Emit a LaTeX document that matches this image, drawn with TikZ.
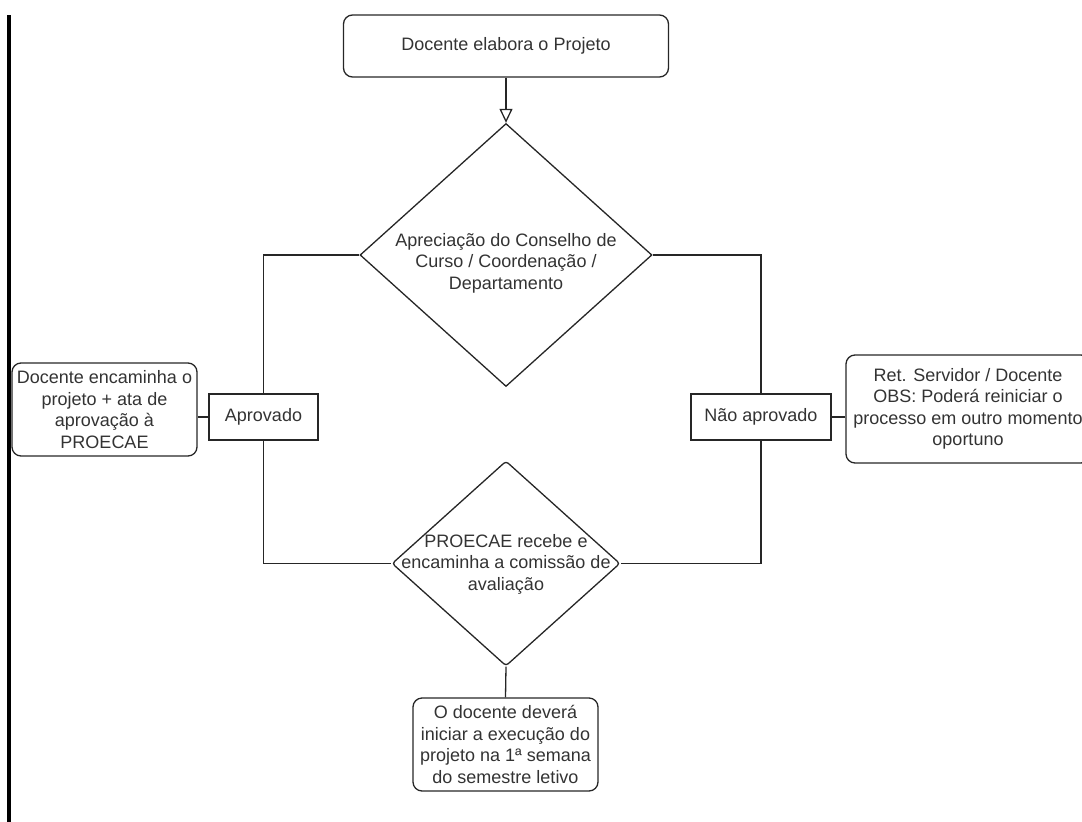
\documentclass[tikz,border=0pt]{standalone}
\usepackage{fontspec}
\setmainfont{Liberation Sans}
\usetikzlibrary{shapes.geometric,arrows.meta}

\begin{document}
\begin{tikzpicture}[x=1pt, y=-1pt, % pixel-like units, y downwards {{{
every node/.style={font=\fontsize{18}{21.5}\selectfont, text=black!80, align=center},
caixa/.style={draw=black!85, line width=1.3pt, rounded corners=9pt, inner sep=0pt},
rotulo/.style={draw=black!85, line width=1.3pt, inner sep=0pt, minimum height=46pt},
losango/.style={draw=black!85, diamond, line width=1.3pt, inner sep=0pt},
liga/.style={draw=black!85, line width=1.3pt}]
% }}}
\useasboundingbox (0,0) rectangle (1082,822);
\pgfmathsetmacro{\meio}{506}
\pgfmathsetmacro{\linha}{417}
% barra preta a esquerda
\draw[line width=4pt] (9,15) -- (9,822);
% Inicio {{{
\node[caixa, minimum width=325pt, minimum height=62pt] (elabora) at (\meio,46) {Docente elabora o Projeto};
\node[losango, minimum width=292pt, minimum height=263pt] (conselho) at (\meio,255) {};
\node (conselhoT) at (\meio,263) {Apreciação do Conselho de\\Curso / Coordenação /\\Departamento};
\draw[liga, -{Triangle[open, length=14pt, width=13pt]}] (elabora) -- (conselho);
% }}}
% Aprovado {{{
\node[rotulo, minimum width=109pt] (aprovado) at (263.5,\linha) {Aprovado};
\node[caixa, minimum width=185pt, minimum height=93pt] (encaminha) at (104.5,409.5) {Docente encaminha o\\projeto + ata de\\aprovação à\\PROECAE};
\draw[liga] (conselho.west) -| (aprovado.north);
\draw[liga] (aprovado.west) -- (encaminha.east |- aprovado.west);
% }}}
% Nao aprovado {{{
\node[rotulo, minimum width=140pt] (naoaprovado) at (761,\linha) {Não aprovado};
\node[caixa, minimum width=244pt, minimum height=108pt] (retorno) at (968,409) {Ret. Servidor / Docente\\OBS: Poderá reiniciar o\\processo em outro momento\\oportuno};
\draw[liga] (conselho.east) -| (naoaprovado.north);
\draw[liga] (naoaprovado.east) -- (retorno.west |- naoaprovado.east);
% }}}
% PROECAE {{{
\node[losango, rounded corners=3pt, minimum width=228pt, minimum height=205pt] (proecae) at (\meio,563.5) {};
\node (proecaeT) at (\meio,564) {PROECAE recebe e\\encaminha a comissão de\\avaliação};
\draw[liga] (aprovado.south) |- (proecae.west);
\draw[liga] (naoaprovado.south) |- (proecae.east);
\node[caixa, minimum width=185pt, minimum height=93pt] (execucao) at (505.5,744.5) {O docente deverá\\iniciar a execução do\\projeto na 1ª semana\\do semestre letivo};
\draw[liga] (proecae.south) -- (execucao.north);
% }}}
\end{tikzpicture}
\end{document}
